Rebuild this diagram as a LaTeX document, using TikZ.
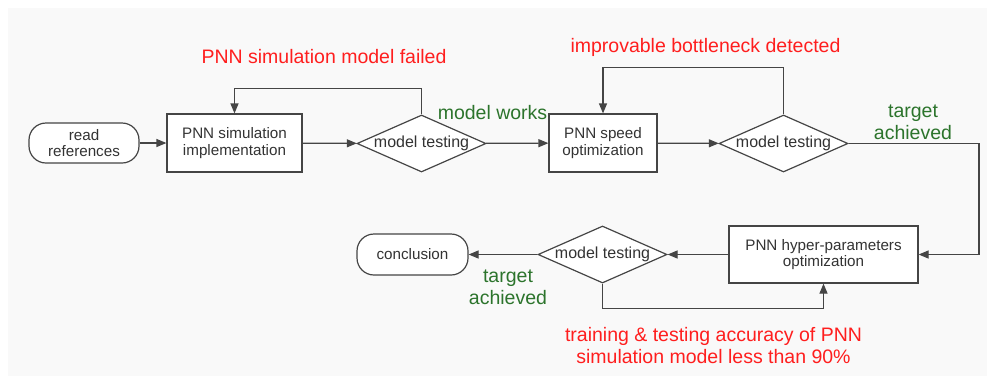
\documentclass[tikz,border=0pt]{standalone}
\usepackage{fontspec}
\setmainfont{Liberation Sans}
\usetikzlibrary{shapes.geometric,arrows.meta}
\definecolor{bgc}{HTML}{F9F9F9}
\definecolor{linec}{HTML}{454545}
\definecolor{textc}{HTML}{333333}
\definecolor{redc}{HTML}{FF1E1E}
\definecolor{greenc}{HTML}{2C742C}
\begin{document}
\begin{tikzpicture}[x=1pt,y=-1pt,
  nodefont/.style={font=\fontsize{15.2}{16.5}\selectfont, text=textc},
  labfont/.style={font=\fontsize{19.5}{22}\selectfont},
  procbox/.style={draw=linec, line width=1.2pt, fill=white, nodefont, align=center, inner sep=0pt},
  termbox/.style={draw=linec, line width=1.2pt, fill=white, nodefont, align=center, inner sep=0pt, rounded corners=17pt},
  decbox/.style={diamond, draw=linec, line width=1.2pt, fill=white, font=\fontsize{16}{18}\selectfont, text=textc, inner sep=0pt, aspect=2.26, minimum width=129pt, minimum height=57pt},
  redlab/.style={labfont, text=redc, align=center},
  greenlab/.style={labfont, text=greenc, align=center},
  conn/.style={draw=linec, line width=1.2pt, -{Triangle[length=10pt,width=8pt]}}
]
\useasboundingbox (0,0) rectangle (987,376);
\fill[white] (0,0) rectangle (987,376);
\fill[bgc] (8,8) rectangle (987,376);

% nodes
\node[termbox, minimum width=110pt, minimum height=40pt] (read) at (84,143) {read\\references};
\node[procbox, minimum width=135pt, minimum height=58pt] (sim) at (234.5,143) {PNN simulation\\implementation};
\node[decbox] (d1) at (421.5,143.5) {model testing};
\node[procbox, minimum width=108pt, minimum height=58pt] (speed) at (603,143) {PNN speed\\optimization};
\node[decbox] (d2) at (783.5,143.5) {model testing};
\node[procbox, minimum width=189pt, minimum height=57pt] (hyper) at (823.5,254.5) {PNN hyper-parameters\\optimization};
\node[decbox] (d3) at (602.5,254.5) {model testing};
\node[termbox, minimum width=111pt, minimum height=41pt] (conc) at (412.5,254.5) {conclusion};

\coordinate (corner) at (979,143.5);

% connectors
\draw[conn] (read) -- (sim);
\draw[conn] (sim) -- (d1);
\draw[conn] (d1) -- (speed);
\draw[conn] (d1.north) -- ++(0,-26) -| (sim.north);
\draw[conn] (speed) -- (d2);
\draw[conn] (d2.north) -- ++(0,-47) -| (speed.north);
\draw[conn] (d2.east) -- (corner) |- (hyper.east);
\draw[conn] (hyper) -- (d3);
\draw[conn] (d3) -- (conc);
\draw[conn] (d3.south) -- ++(0,25) -| (hyper.south);

% labels
\node[redlab] (lfail) at (324,57) {PNN simulation model failed};
\node[greenlab] (lworks) at (492.5,113) {model works};
\node[redlab] (lbottle) at (705.5,47) {improvable bottleneck detected};
\node[greenlab] (ltarget1) at (913,122) {target\\achieved};
\node[greenlab] (ltarget2) at (508,287.5) {target\\achieved};
\node[redlab] (lacc) at (713.5,346) {training \& testing accuracy of PNN\\simulation model less than 90\%};
\end{tikzpicture}
\end{document}
